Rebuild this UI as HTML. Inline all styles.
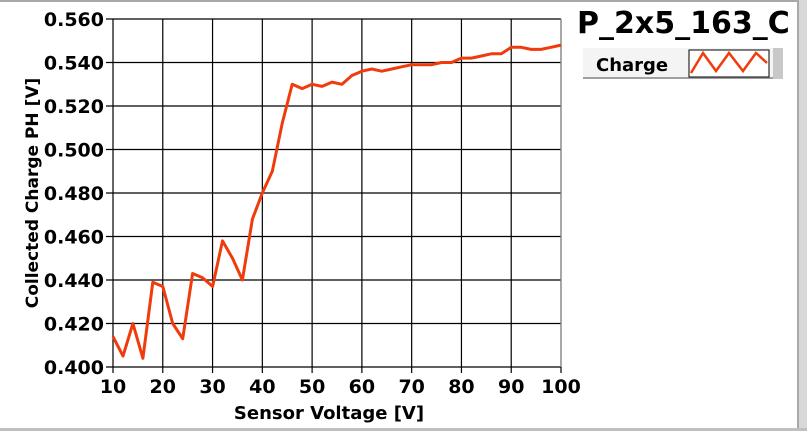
<!DOCTYPE html>
<html><head><style>
body{margin:0;background:#fff;width:807px;height:431px;overflow:hidden;font-family:"DejaVu Sans","Liberation Sans",sans-serif}
</style></head><body>
<svg width="807" height="431" xmlns="http://www.w3.org/2000/svg" font-family="DejaVu Sans, Liberation Sans, sans-serif" font-weight="bold">
<rect x="0" y="0" width="807" height="2" fill="#a8a8a8"/>
<rect x="797" y="0" width="10" height="431" fill="#d8d8d8"/>
<rect x="797" y="0" width="2" height="431" fill="#a8a8a8"/>
<rect x="0" y="428" width="807" height="3" fill="#c0c0c0"/>
<g id="grid" stroke="#000" stroke-width="1.2"></g>
<g id="labels" font-size="19" fill="#000"></g>
<polyline id="line" fill="none" stroke="#f03c0c" stroke-width="3" stroke-linejoin="round"/>
<text x="329" y="419" font-size="18" text-anchor="middle">Sensor Voltage [V]</text>
<text transform="translate(38,193) rotate(-90)" font-size="17" text-anchor="middle">Collected Charge PH [V]</text>
<text x="577" y="33" font-size="30">P_2x5_163_C</text>
<rect x="583" y="48" width="200" height="31" fill="#f4f4f4"/>
<rect x="583" y="77" width="200" height="2" fill="#a0a0a0"/>
<rect x="773" y="48" width="10" height="31" fill="#c8c8c8"/>
<text x="596" y="71" font-size="18">Charge</text>
<rect x="689" y="50" width="80" height="27" fill="#fff" stroke="#000" stroke-width="1"/>
<polyline points="691,73 703,53 716,71 729,53 743,71 756,53 767,63" fill="none" stroke="#f03c0c" stroke-width="2.5"/>
</svg>
<script>
var X=function(v){return 113+(v-10)*(448/90)};
var Y=function(v){return 367-(v-0.4)*(348/0.16)};
var g=document.getElementById('grid'),l=document.getElementById('labels'),ns='http://www.w3.org/2000/svg';
function el(p,t,a,txt){var e=document.createElementNS(ns,t);for(var k in a)e.setAttribute(k,a[k]);if(txt)e.textContent=txt;p.appendChild(e);}
for(var v=10;v<=100;v+=10){var x=X(v);el(g,'line',{x1:x,y1:19,x2:x,y2:373});el(l,'text',{x:x,y:393,'text-anchor':'middle'},String(v));}
for(var i=0;i<=8;i++){var y=Y(0.4+i*0.02);el(g,'line',{x1:106,y1:y,x2:561,y2:y});el(l,'text',{x:104,y:y+7,'text-anchor':'end'},(0.4+i*0.02).toFixed(3));}
el(g,'line',{x1:561,y1:19,x2:561,y2:367,stroke:'#909090'});
var d=[0.414,0.405,0.420,0.404,0.439,0.437,0.420,0.413,0.443,0.441,0.437,0.458,0.450,0.440,0.468,0.480,0.490,0.512,0.530,0.528,0.530,0.529,0.531,0.530,0.534,0.536,0.537,0.536,0.537,0.538,0.539,0.539,0.539,0.540,0.540,0.542,0.542,0.543,0.544,0.544,0.547,0.547,0.546,0.546,0.547,0.548];
var p=d.map(function(v,i){return X(10+2*i).toFixed(1)+','+Y(v).toFixed(1)}).join(' ');
document.getElementById('line').setAttribute('points',p);
</script>
</body></html>
